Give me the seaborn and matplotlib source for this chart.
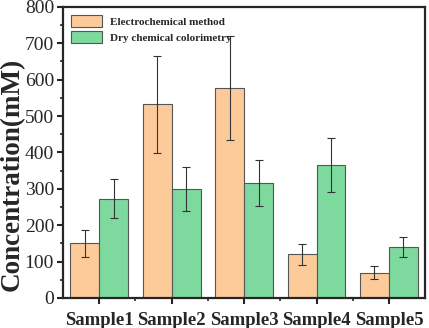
import matplotlib
matplotlib.use("Agg")
import matplotlib.pyplot as plt
import seaborn as sns
import pandas as pd
import numpy as np
from matplotlib.ticker import MultipleLocator, FixedLocator

samples = ["Sample1", "Sample2", "Sample3", "Sample4", "Sample5"]
methods = ["Electrochemical method", "Dry chemical colorimetry"]
electro = [150, 532, 578, 120, 70]
electro_err = [38, 133, 143, 28, 19]
dry = [273, 300, 315, 365, 140]
dry_err = [54, 60, 63, 75, 28]

df = pd.DataFrame({
    "Sample": samples * 2,
    "Method": [methods[0]] * 5 + [methods[1]] * 5,
    "Value": electro + dry,
})
errs = electro_err + dry_err

sns.set_style("ticks")
plt.rcParams["font.family"] = ["Liberation Serif", "DejaVu Serif"]

fig = plt.figure(figsize=(4.29, 3.28), dpi=100)
ax = fig.add_axes([0.147, 0.0915, 0.844, 0.8875])

palette = {methods[0]: "#FDCB9A", methods[1]: "#7ED99E"}
sns.barplot(data=df, x="Sample", y="Value", hue="Method", palette=palette,
            errorbar=None, width=0.8, edgecolor="#555555", linewidth=0.8,
            saturation=1, ax=ax)

patches = ax.patches[:10]
for p, v, e in zip(patches, df["Value"], errs):
    cx = p.get_x() + p.get_width() / 2
    ax.errorbar(cx, v, yerr=e, fmt="none", ecolor="#333333", elinewidth=0.8,
                capsize=3, capthick=0.8)

ax.set_ylim(0, 800)
ax.set_xlim(-0.5, 4.5)
ax.yaxis.set_major_locator(MultipleLocator(100))
ax.yaxis.set_minor_locator(MultipleLocator(50))
ax.xaxis.set_minor_locator(FixedLocator([0.5, 1.5, 2.5, 3.5]))
ax.tick_params(axis="both", which="major", direction="out", length=4, width=1.5)
ax.tick_params(axis="both", which="minor", direction="out", length=2.5, width=1.2)
ax.tick_params(axis="y", labelsize=14, pad=2.5)
ax.tick_params(axis="x", labelsize=13.5, pad=6)
for lbl in ax.get_xticklabels():
    lbl.set_fontweight("bold")
for s in ax.spines.values():
    s.set_linewidth(1.6)
    s.set_visible(True)

ax.set_xlabel("")
ax.set_ylabel("Concentration(mM)", fontsize=19.5, fontweight="bold",
              va="center", ha="center")
ax.yaxis.set_label_coords(-0.141, 0.425)

leg = ax.legend(loc="upper left", frameon=False, prop={"weight": "bold", "size": 8},
                handlelength=2.8, handleheight=1.35, borderaxespad=0.5,
                borderpad=0.2, labelspacing=0.35, handletextpad=0.7)
for h in leg.legend_handles:
    h.set_edgecolor("#555555")
    h.set_linewidth(0.8)

fig.savefig("out.png", dpi=100)
